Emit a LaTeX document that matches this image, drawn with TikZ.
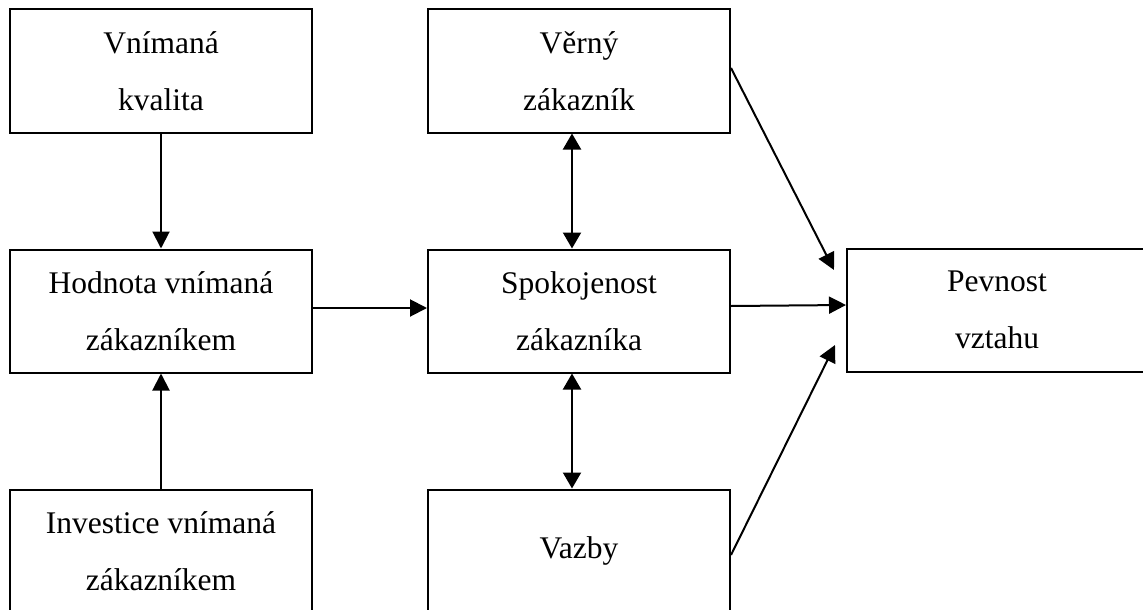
\documentclass[tikz,border=0pt]{standalone}
\usepackage{fontspec}
\setmainfont{Liberation Serif}
\usetikzlibrary{arrows.meta}
\tikzset{
  box/.style={draw, line width=2pt, rectangle, minimum width=302pt, minimum height=123pt,
    align=center, inner sep=0pt, font=\fontsize{31.5}{57}\selectfont},
  arr/.style={line width=2pt, -{Triangle[length=17pt,width=17pt]}},
  darr/.style={line width=2pt, {Triangle[length=16pt,width=18pt]}-{Triangle[length=16pt,width=18pt]}}
}
\begin{document}
\begin{tikzpicture}[x=1pt,y=-1pt]
\useasboundingbox (0,0) rectangle (1143,610);
\clip (0,0) rectangle (1143,610);
\fill[white] (0,0) rectangle (1143,610);
\node[box] (kval) at (161,71) {Vnímaná\\kvalita};
\node[box] (hod) at (161,311) {Hodnota vnímaná\\zákazníkem};
\node[box] (inv) at (161,551) {Investice vnímaná\\zákazníkem};
\node[box] (ver) at (579,71) {Věrný\\zákazník};
\node[box] (spok) at (579,311) {Spokojenost\\zákazníka};
\node[box] (vaz) at (579,551) {Vazby};
\node[box, minimum width=300pt] (pev) at (997,310) {Pevnost\\vztahu};
\coordinate (c1) at (834,270);
\coordinate (c2) at (835,345);
\draw[arr] (kval) -- (hod);
\draw[arr] (inv) -- (hod);
\draw[arr] ([yshift=3pt]hod.east) -- ([yshift=3pt]spok.west);
\draw[darr] ([xshift=-7pt]ver.south) -- ([xshift=-7pt]spok.north);
\draw[darr] ([xshift=-7pt]spok.south) -- ([xshift=-7pt]vaz.north);
\draw[arr] ([yshift=5pt]spok.east) -- ([yshift=5pt]pev.west);
\draw[arr] ([yshift=3pt]ver.east) -- (c1);
\draw[arr] ([yshift=-4pt]vaz.east) -- (c2);
\end{tikzpicture}
\end{document}
